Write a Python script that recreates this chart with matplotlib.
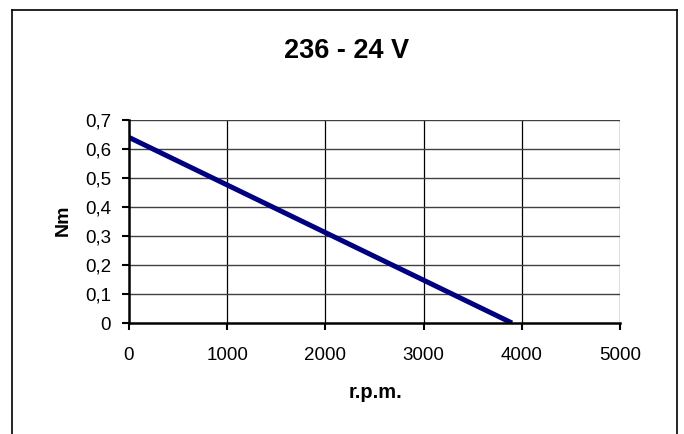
import matplotlib
matplotlib.use("Agg")
import matplotlib.pyplot as plt
from matplotlib.lines import Line2D
from matplotlib.ticker import FuncFormatter

plt.rcParams['font.family'] = ['Liberation Sans', 'DejaVu Sans']

title = "236 - 24 V"
x_label = "r.p.m."
y_label = "Nm"
rpm = [0, 3900]
torque = [0.64, 0.0]
x_ticks = [0, 1000, 2000, 3000, 4000, 5000]
y_ticks = [0, 0.1, 0.2, 0.3, 0.4, 0.5, 0.6, 0.7]

W, H = 684, 434
fig = plt.figure(figsize=(W / 100, H / 100), dpi=100)
ax = fig.add_axes([129 / W, 111 / H, (620 - 129) / W, (323 - 120) / H])

ax.plot(rpm, torque, color='#000080', lw=3.6, solid_capstyle='butt', zorder=3)
ax.set_xlim(0, 5000)
ax.set_ylim(0, 0.7)
ax.set_xticks(x_ticks)
ax.set_yticks(y_ticks)
ax.yaxis.set_major_formatter(FuncFormatter(lambda v, p: ('%g' % round(v, 2)).replace('.', ',')))
ax.xaxis.set_major_formatter(FuncFormatter(lambda v, p: '%d' % v))

for xv in x_ticks[1:]:
    ax.axvline(xv, color='black', lw=0.9, zorder=1)
for yv in y_ticks[1:]:
    ax.axhline(yv, color='#404040', lw=1.0, zorder=1)

for s in ['top', 'right']:
    ax.spines[s].set_visible(False)
for s in ['left', 'bottom']:
    ax.spines[s].set_linewidth(1.8)
    ax.spines[s].set_color('black')
    ax.spines[s].set_zorder(4)

ax.tick_params(axis='both', direction='out', length=5, width=1.5, labelsize=13.5, colors='black')
ax.tick_params(axis='y', pad=8)
ax.tick_params(axis='x', pad=12)

fig.text(347 / W, 1 - 51 / H, title, ha='center', va='center', fontsize=19.5, fontweight='bold')
fig.text(375 / W, 1 - 392 / H, x_label, ha='center', va='center', fontsize=14.5, fontweight='bold')
fig.text(63 / W, 1 - 220 / H, y_label, ha='center', va='center', fontsize=14, fontweight='bold', rotation=90)

# outer chart border (bottom edge lies outside the image)
bx0, bx1, by1 = 12 / W, 677 / W, 1 - 10 / H
for xs, ys in [([bx0, bx0], [-0.1, by1]), ([bx0, bx1], [by1, by1]), ([bx1, bx1], [by1, -0.1])]:
    fig.add_artist(Line2D(xs, ys, transform=fig.transFigure, color='black', lw=1.2))

fig.savefig('out.png', dpi=100)
